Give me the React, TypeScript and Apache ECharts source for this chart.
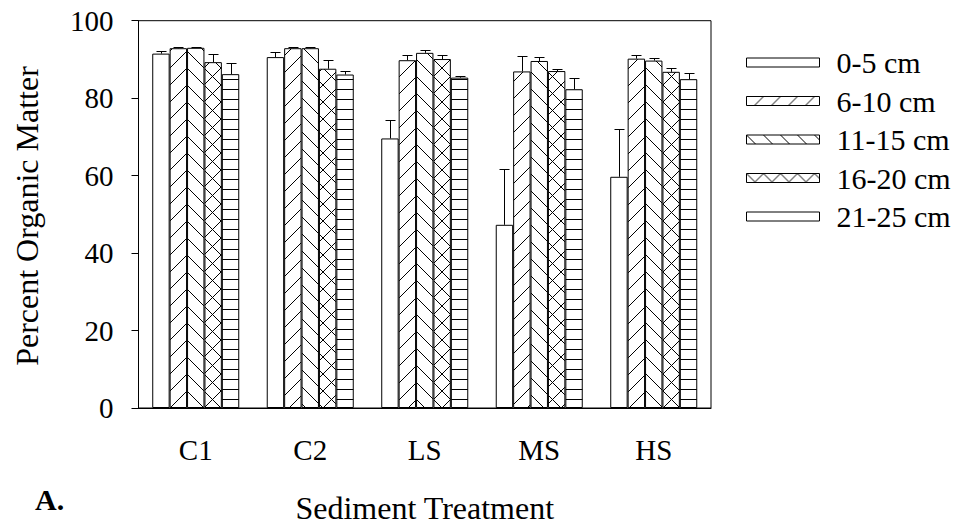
import React, { useEffect, useRef } from "react";
import * as echarts from "echarts";

// Sediment treatments on the category axis
const categories = ["C1", "C2", "LS", "MS", "HS"];

// Depth layers (one bar series each)
const depthNames = ["0-5 cm", "6-10 cm", "11-15 cm", "16-20 cm", "21-25 cm"];

// Mean percent organic matter per treatment, by depth
const depth0to5 = [91.5, 90.6, 69.6, 47.3, 59.7];
const depth6to10 = [92.9, 92.9, 89.8, 86.9, 90.2];
const depth11to15 = [93.0, 92.9, 91.7, 89.6, 89.7];
const depth16to20 = [89.3, 87.6, 90.1, 87.0, 86.8];
const depth21to25 = [86.2, 86.1, 85.3, 82.3, 84.9];

// Upper error (standard error) per treatment, by depth
const err0to5 = [0.7, 1.2, 4.8, 14.3, 12.4];
const err6to10 = [0.2, 0.2, 1.4, 3.9, 1.0];
const err11to15 = [0.2, 0.2, 0.7, 0.9, 0.6];
const err16to20 = [2.0, 2.3, 1.0, 0.6, 1.0];
const err21to25 = [2.9, 1.0, 0.5, 2.9, 1.6];

const yTicks = { min: 0, max: 100, interval: 20 };

const FONT = '"Liberation Serif", "Times New Roman", serif';
const CATEGORY_GAP = 0.24;

type Hatch = "none" | "fwd" | "back" | "cross" | "horiz";

function makeFill(kind: Hatch): any {
  if (kind === "none") return "#ffffff";
  const T = kind === "horiz" ? 10 : 17;
  const c = document.createElement("canvas");
  c.width = T;
  c.height = T;
  const g = c.getContext("2d")!;
  g.fillStyle = "#ffffff";
  g.fillRect(0, 0, T, T);
  g.strokeStyle = "#000000";
  g.lineWidth = 1;
  g.beginPath();
  if (kind === "fwd" || kind === "cross") {
    g.moveTo(-2, T + 2);
    g.lineTo(T + 2, -2);
  }
  if (kind === "back" || kind === "cross") {
    g.moveTo(-2, -2);
    g.lineTo(T + 2, T + 2);
  }
  if (kind === "horiz") {
    g.moveTo(0, T - 0.5);
    g.lineTo(T, T - 0.5);
  }
  g.stroke();
  return { image: c, repeat: "repeat", imageWidth: T, imageHeight: T };
}

export default function App() {
  const ref = useRef<HTMLDivElement>(null);

  useEffect(() => {
    if (!ref.current) return;
    const chart = echarts.init(ref.current, undefined, { renderer: "svg" });

    const values = [depth0to5, depth6to10, depth11to15, depth16to20, depth21to25];
    const errors = [err0to5, err6to10, err11to15, err16to20, err21to25];
    const hatches: Hatch[] = ["none", "fwd", "back", "cross", "horiz"];
    const n = depthNames.length;

    const barSeries = depthNames.map((name, i) => ({
      name,
      type: "bar",
      data: values[i],
      barGap: "0%",
      barCategoryGap: `${CATEGORY_GAP * 100}%`,
      itemStyle: {
        color: makeFill(hatches[i]),
        borderColor: "#000",
        borderWidth: 1,
      },
      z: 2,
    }));

    const errorSeries = depthNames.map((name, i) => ({
      name: `${name} error`,
      type: "custom",
      z: 3,
      data: values[i].map((v, k) => [k, v, errors[i][k]]),
      encode: { x: 0, y: 1 },
      renderItem: (_params: any, api: any) => {
        const cat = api.value(0);
        const v = api.value(1);
        const e = api.value(2);
        const base = api.coord([cat, v]);
        const top = api.coord([cat, v + e]);
        const band = api.size([1, 0])[0];
        const barW = (band * (1 - CATEGORY_GAP)) / n;
        const cx = Math.round(base[0] + (i - (n - 1) / 2) * barW) + 0.5;
        const ty = Math.round(top[1]) + 0.5;
        const style = { stroke: "#000", lineWidth: 1 };
        return {
          type: "group",
          children: [
            { type: "line", shape: { x1: cx, y1: base[1], x2: cx, y2: ty }, style },
            { type: "line", shape: { x1: cx - 5, y1: ty, x2: cx + 5, y2: ty }, style },
          ],
        };
      },
    }));

    chart.setOption({
      animation: false,
      backgroundColor: "#ffffff",
      textStyle: { fontFamily: FONT, color: "#000" },
      grid: {
        left: 138.5,
        right: 255,
        top: 20.7,
        bottom: 118,
        show: true,
        borderColor: "#000",
        borderWidth: 1,
        backgroundColor: "transparent",
      },
      legend: {
        data: depthNames,
        orient: "vertical",
        left: 746,
        top: 47.5,
        padding: 0,
        icon: "rect",
        itemWidth: 73,
        itemHeight: 9,
        itemGap: 8.5,
        selectedMode: false,
        itemStyle: { borderColor: "#000", borderWidth: 1 },
        textStyle: {
          fontFamily: FONT,
          fontSize: 30,
          color: "#000",
          lineHeight: 30,
          padding: [0, 0, 0, 12],
        },
      },
      xAxis: {
        type: "category",
        data: categories,
        name: "Sediment Treatment",
        nameLocation: "middle",
        nameGap: 84,
        nameTextStyle: { fontFamily: FONT, fontSize: 32, color: "#000" },
        axisLine: { lineStyle: { color: "#000", width: 1 } },
        axisTick: { alignWithLabel: true, length: 5, lineStyle: { color: "#000" } },
        axisLabel: { fontFamily: FONT, fontSize: 29, color: "#000", margin: 27 },
        splitLine: { show: false },
      },
      yAxis: {
        type: "value",
        min: yTicks.min,
        max: yTicks.max,
        interval: yTicks.interval,
        axisLine: { show: true, lineStyle: { color: "#000", width: 1 } },
        axisTick: { show: true, length: 7, lineStyle: { color: "#000" } },
        axisLabel: { fontFamily: FONT, fontSize: 29, color: "#000", margin: 25 },
        splitLine: { show: false },
      },
      graphic: [
        {
          type: "text",
          x: 27,
          y: 216,
          rotation: Math.PI / 2,
          style: {
            text: "Percent Organic Matter",
            fontFamily: FONT,
            fontSize: 32,
            fill: "#000",
            align: "center",
            verticalAlign: "middle",
          },
        },
        {
          type: "text",
          left: 35,
          top: 484,
          style: {
            text: "A.",
            fontFamily: FONT,
            fontSize: 30,
            fontWeight: "bold",
            fill: "#000",
          },
        },
      ],
      series: [...barSeries, ...errorSeries],
    });

    return () => chart.dispose();
  }, []);

  return (
    <div
      ref={ref}
      style={{ position: "fixed", left: 0, top: 0, width: 966, height: 529, background: "#fff" }}
    />
  );
}
